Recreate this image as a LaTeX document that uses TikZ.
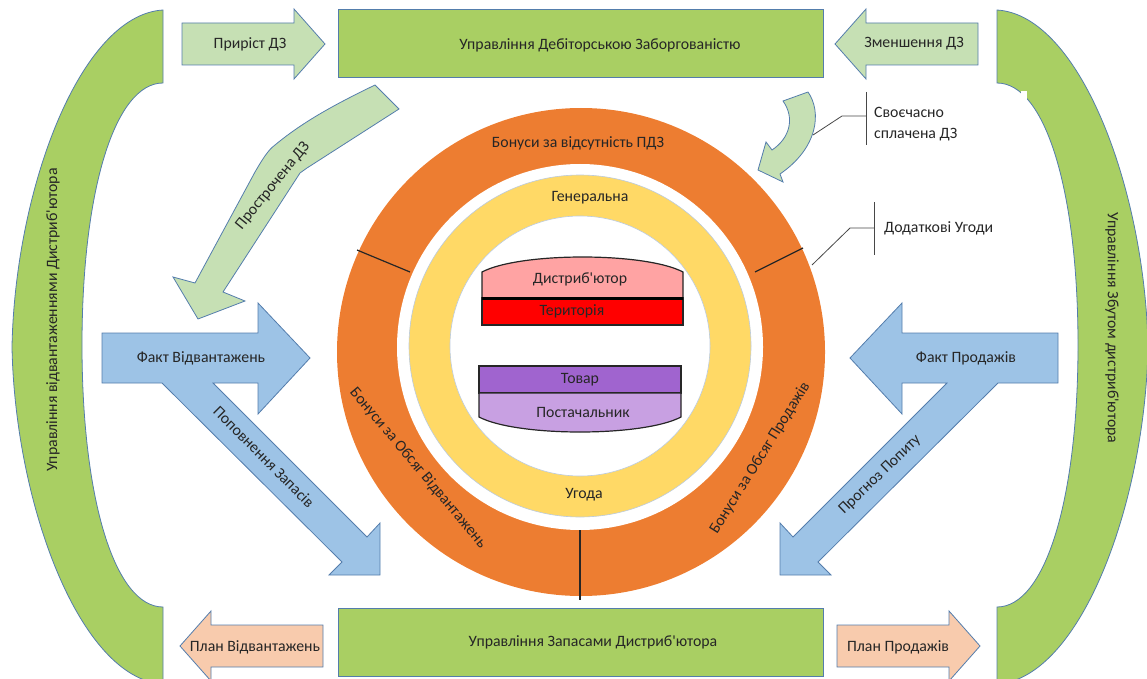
\documentclass[tikz,border=0pt]{standalone}
\usepackage{fontspec}
\setmainfont{Carlito}[Ligatures=TeXOff]
\definecolor{grn}{RGB}{169,207,99}
\definecolor{lgrn}{RGB}{198,224,180}
\definecolor{blu}{RGB}{157,195,230}
\definecolor{pch}{RGB}{248,203,173}
\definecolor{org}{RGB}{237,125,49}
\definecolor{ylw}{RGB}{255,217,102}
\definecolor{pnk}{RGB}{255,163,163}
\definecolor{prp}{RGB}{160,100,207}
\definecolor{lprp}{RGB}{200,160,226}
\definecolor{frame}{RGB}{84,125,172}
\definecolor{ink}{RGB}{38,38,38}
\begin{document}
\begin{tikzpicture}[x=1pt,y=-1pt,
  lbl/.style={font=\fontsize{15.8}{18}\selectfont, text=ink, inner sep=1pt},
  shapeline/.style={draw=frame, line width=0.8pt},
  greenbox/.style={shapeline, fill=grn, minimum width=485pt, minimum height=68pt, inner sep=0pt},
  callout/.style={draw=ink!85, line width=0.8pt},
  barline/.style={draw=ink, line width=1.2pt}]
\useasboundingbox (0,0) rectangle (1147,679);
\clip (0,0) rectangle (1147,679);

% side arcs (left one, and its mirror image on the right)
\def\sidearcpath{(163,10) .. controls (80,15) and (15,190) .. (12,347)
  .. controls (15,504) and (80,679) .. (163,684) -- (163,607)
  .. controls (115,607) and (82,500) .. (82,345)
  .. controls (82,190) and (115,83) .. (163,83) -- cycle}
\path[shapeline, fill=grn] \sidearcpath;
\begin{scope}[xshift=1160pt, xscale=-1]
  \path[shapeline, fill=grn] \sidearcpath;
\end{scope}
\fill[white] (1021,91) rectangle (1027,100);

\node[lbl, rotate=90] (leftarc) at (53,320) {Управління відвантаженнями Дистриб'ютора};
\node[lbl, rotate=-90] (rightarc) at (1112,328) {Управління Збутом дистриб'ютора};

% top and bottom management boxes
\node[greenbox] (dz) at (580.5,43) {};
\node[lbl] (dztext) at (600,45) {Управління Дебіторською Заборгованістю};
\node[greenbox] (stock) at (580.5,642.5) {};
\node[lbl] (stocktext) at (593,642) {Управління Запасами Дистриб'ютора};

% light green block arrows at the top
\path[shapeline, fill=lgrn] (182,23) -- (294,23) -- (294,9) -- (325,44) -- (294,79) -- (294,65) -- (182,65) -- cycle;
\node[lbl] (grow) at (250,44) {Приріст ДЗ};
\path[shapeline, fill=lgrn] (978,23) -- (866,23) -- (866,9) -- (835,44) -- (866,79) -- (866,65) -- (978,65) -- cycle;
\node[lbl] (shrink) at (914,44) {Зменшення ДЗ};

% peach block arrows at the bottom
\path[shapeline, fill=pch] (323,625) -- (211,625) -- (211,611) -- (180,646) -- (211,681) -- (211,667) -- (323,667) -- cycle;
\node[lbl] (planship) at (255,647) {План Відвантажень};
\path[shapeline, fill=pch] (837,625) -- (949,625) -- (949,611) -- (980,646) -- (949,681) -- (949,667) -- (837,667) -- cycle;
\node[lbl] (plansale) at (898,647) {План Продажів};

% blue arrows: fact arrow with a diagonal branch
\def\bluepath{(102,333) -- (258,333) -- (258,303) -- (310,358) -- (258,414) -- (258,383)
  -- (213,383) -- (367,537) -- (380,523) -- (380,575) -- (329,575) -- (342,562)
  -- (162,383) -- (102,383) -- cycle}
\path[shapeline, fill=blu] \bluepath;
\begin{scope}[xshift=1160pt, xscale=-1]
  \path[shapeline, fill=blu] \bluepath;
\end{scope}
\node[lbl] (factship) at (201,358) {Факт Відвантажень};
\node[lbl] (factsale) at (966,358) {Факт Продажів};
\node[lbl, rotate=-45] (refill) at (264,457) {Поповнення Запасів};
\node[lbl, rotate=44] (forecast) at (880,475) {Прогноз Попиту};

% overdue receivables arrow
\path[shapeline, fill=lgrn] (375,85) -- (399,109) -- (307,168) -- (300,173) -- (223,292)
  -- (245,301) -- (198,319) -- (173,277) -- (195,283) -- (255,172)
  .. controls (262,160) and (268,150) .. (275,145)
  .. controls (305,120) and (340,102) .. (375,85) -- cycle;
\node[lbl, rotate=51] (overdue) at (273,186) {Прострочена ДЗ};

% curved arrow: receivables paid on time
\path[shapeline, fill=lgrn] (783,101) -- (808,92) .. controls (822,112) and (818,148) .. (780,174)
  -- (783,182) -- (758,170) -- (766,142) -- (772,150)
  .. controls (790,138) and (795,118) .. (783,101) -- cycle;

% bonus ring
\fill[org] (581,352) circle[radius=244];
\fill[white] (580,347) circle[radius=183];
\draw[draw=frame!40, line width=0.6pt, fill=ylw] (580,346) circle[radius=171];
\draw[draw=frame!40, line width=0.6pt, fill=white] (580,346) circle[radius=130];
\draw[barline] (357,250) -- (410,272);
\draw[barline] (755,272) -- (803,248);
\draw[barline] (580,530) -- (580,600);

\node[lbl] (bonpdz) at (578,143) {Бонуси за відсутність ПДЗ};
\node[lbl, rotate=-50] (bonship) at (418,468) {Бонуси за Обсяг Відвантажень};
\node[lbl, rotate=58] (bonsale) at (760,458) {Бонуси за Обсяг Продажів};
\node[lbl] (general) at (590,198) {Генеральна};
\node[lbl] (deal) at (584,495) {Угода};

% agreement data blocks
\path[draw=ink, line width=1.2pt, fill=pnk] (482,298) -- (482,272) .. controls (520,252) and (645,252) .. (683,272) -- (683,298) -- cycle;
\path[draw=ink, line width=1.2pt, fill=red] (482,298) rectangle (683,325);
\draw[draw=black, line width=3pt] (482,298) -- (683,298);
\node[lbl] (distr) at (580,279) {Дистриб'ютор};
\node[lbl] (terr) at (572,311) {Територія};

\path[draw=ink, line width=1.2pt, fill=prp] (479,366) rectangle (681,393);
\path[draw=ink, line width=1.2pt, fill=lprp] (479,393) -- (479,417) .. controls (517,437) and (643,437) .. (681,417) -- (681,393) -- cycle;
\node[lbl] (goods) at (580,380) {Товар};
\node[lbl] (supplier) at (583,412) {Постачальник};

% callouts
\coordinate (c1top) at (866,92);
\coordinate (c1bot) at (866,145);
\coordinate (c1mid) at (866,116);
\coordinate (c1knee) at (842,116);
\coordinate (c1end) at (813,135);
\draw[callout] (c1top) -- (c1bot);
\draw[callout] (c1mid) -- (c1knee) -- (c1end);
\node[lbl, anchor=west, align=left] (ontime) at (873,124) {Своєчасно\\[3pt]сплачена ДЗ};

\coordinate (c2top) at (874,202);
\coordinate (c2bot) at (874,255);
\coordinate (c2mid) at (874,228);
\coordinate (c2knee) at (850,228);
\coordinate (c2end) at (812,265);
\draw[callout] (c2top) -- (c2bot);
\draw[callout] (c2mid) -- (c2knee) -- (c2end);
\node[lbl, anchor=west] (extra) at (883,228) {Додаткові Угоди};
\end{tikzpicture}
\end{document}
